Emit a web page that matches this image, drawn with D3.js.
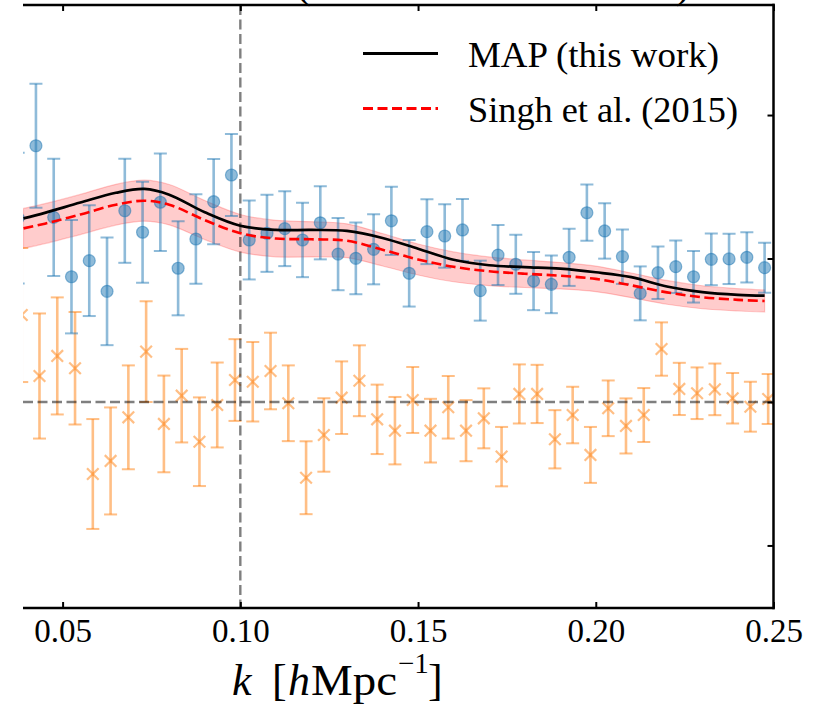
<!DOCTYPE html>
<html>
<head>
<meta charset="utf-8">
<script src="https://cdn.jsdelivr.net/npm/d3@7"></script>
<style>
  html, body { margin: 0; padding: 0; background: #fff; }
  svg { display: block; }
  text { font-family: "Liberation Serif", "DejaVu Serif", serif; fill: #000; }
</style>
</head>
<body>
<svg id="chart" width="818" height="707"></svg>
<script>
// k bins (h/Mpc) of the measured band powers
const kBins = [0.0375,0.0425,0.0475,0.0525,0.0575,0.0625,0.0675,0.0725,0.0775,0.0825,
  0.0875,0.0925,0.0975,0.1025,0.1075,0.1125,0.1175,0.1225,0.1275,0.1325,
  0.1375,0.1425,0.1475,0.1525,0.1575,0.1625,0.1675,0.1725,0.1775,0.1825,
  0.1875,0.1925,0.1975,0.2025,0.2075,0.2125,0.2175,0.2225,0.2275,0.2325,
  0.2375,0.2425,0.2475];

// signal estimates (circles) and their 1-sigma errors
const signalVals = [1.282,1.786,1.287,0.873,0.985,0.771,1.333,1.183,1.392,0.932,
  1.136,1.396,1.582,1.129,1.176,1.208,1.129,1.249,1.031,1.001,
  1.064,1.263,0.897,1.187,1.157,1.199,0.776,1.024,0.960,0.843,
  0.820,1.008,1.319,1.192,1.013,0.757,0.901,0.943,0.873,0.994,
  0.997,1.008,0.936];
const signalErr = [0.456,0.432,0.409,0.395,0.386,0.375,0.363,0.352,0.340,0.328,
  0.312,0.297,0.286,0.275,0.269,0.261,0.259,0.255,0.252,0.250,
  0.244,0.238,0.232,0.226,0.221,0.216,0.209,0.209,0.206,0.203,
  0.201,0.199,0.196,0.193,0.190,0.188,0.183,0.183,0.180,0.180,
  0.175,0.175,0.174];

// null-test estimates (crosses) and their 1-sigma errors
const nullVals = [0.606,0.181,0.321,0.235,-0.502,-0.411,-0.107,0.351,-0.153,0.044,
  -0.277,-0.021,0.153,0.141,0.216,-0.009,-0.528,-0.230,0.030,0.148,
  -0.121,-0.200,0.014,-0.200,-0.037,-0.200,-0.114,-0.381,0.056,0.056,
  -0.260,-0.091,-0.369,-0.044,-0.167,-0.091,0.369,0.091,0.061,0.088,
  0.026,-0.033,0.021];
const nullErr = [0.467,0.436,0.408,0.392,0.383,0.373,0.362,0.351,0.337,0.326,
  0.309,0.296,0.285,0.277,0.267,0.264,0.254,0.256,0.253,0.247,
  0.242,0.235,0.230,0.222,0.218,0.213,0.209,0.207,0.206,0.203,
  0.203,0.197,0.195,0.194,0.192,0.188,0.186,0.182,0.180,0.180,
  0.176,0.174,0.174];

// model curves on a k grid
const kModel = [0.039,0.045,0.055,0.065,0.073,0.080,0.090,0.100,0.110,0.120,0.130,0.140,
  0.150,0.160,0.170,0.180,0.190,0.200,0.210,0.220,0.230,0.240,0.2475];
const mapVals = [1.280,1.318,1.390,1.458,1.485,1.445,1.322,1.228,1.199,1.199,1.192,1.143,
  1.068,0.991,0.953,0.940,0.929,0.904,0.870,0.805,0.766,0.747,0.741];
const singhVals = [1.210,1.243,1.307,1.375,1.403,1.375,1.268,1.176,1.139,1.134,1.124,1.061,
  0.993,0.942,0.911,0.894,0.880,0.858,0.813,0.764,0.730,0.712,0.704];
const singhErr = [0.139,0.139,0.140,0.142,0.143,0.141,0.136,0.131,0.127,0.123,0.118,0.113,
  0.108,0.104,0.100,0.096,0.092,0.089,0.086,0.083,0.080,0.078,0.077];

const xTicks = [0.05, 0.10, 0.15, 0.20, 0.25];
const yTicks = [-1, 0, 1, 2];
const kCut = 0.10;
const nullShift = 0.001; // small horizontal offset so the two series don't overlap

const legendItems = [
  { label: "MAP (this work)", color: "#000", dash: null, width: 251 },
  { label: "Singh et al. (2015)", color: "#ff0000", dash: "10,4.5", width: 270 }
];

// ---- layout ----
const svg = d3.select("#chart");
const L = 23, R = 773.5, T = 5, B = 608;

const x = d3.scaleLinear().domain([0.039, 0.25]).range([23.5, R]);
const y = d3.scaleLinear().domain([-1.436, 2.767]).range([B, T]);

svg.append("defs").append("clipPath").attr("id", "plotclip")
  .append("rect").attr("x", L).attr("y", T).attr("width", R - L).attr("height", B - T);

const plot = svg.append("g").attr("clip-path", "url(#plotclip)");
const smooth = d3.curveCatmullRom.alpha(0.5);

// model band (Singh et al. uncertainty)
const bandData = kModel.map((k, i) => ({ k, lo: singhVals[i] - singhErr[i], hi: singhVals[i] + singhErr[i] }));
plot.append("path")
  .datum(bandData)
  .attr("d", d3.area().curve(smooth)
    .x(d => x(d.k)).y0(d => y(d.lo)).y1(d => y(d.hi)))
  .attr("fill", "rgba(255,0,0,0.2)")
  .attr("stroke", "rgba(255,0,0,0.2)")
  .attr("stroke-width", 1.2);

// error bars helper
function errorBars(g, ks, vals, errs, color) {
  const rows = ks.map((k, i) => ({ k, v: vals[i], e: errs[i] }));
  const grp = g.append("g");
  grp.selectAll("line.bar").data(rows).join("line")
    .attr("x1", d => x(d.k)).attr("x2", d => x(d.k))
    .attr("y1", d => y(d.v + d.e)).attr("y2", d => y(d.v - d.e))
    .attr("stroke", color).attr("stroke-width", 2.6);
  ["top", "bot"].forEach(side => {
    grp.selectAll("line.cap" + side).data(rows).join("line")
      .attr("x1", d => x(d.k) - 6.5).attr("x2", d => x(d.k) + 6.5)
      .attr("y1", d => y(side === "top" ? d.v + d.e : d.v - d.e))
      .attr("y2", d => y(side === "top" ? d.v + d.e : d.v - d.e))
      .attr("stroke", color).attr("stroke-width", 2);
  });
  return rows;
}

const blue = "rgba(31,119,180,0.5)";
const orange = "rgba(255,127,14,0.5)";

// null-test crosses
const kNull = kBins.map(k => k + nullShift);
const nullRows = errorBars(plot, kNull, nullVals, nullErr, orange);
const s = 5.8;
plot.append("g").selectAll("path").data(nullRows).join("path")
  .attr("d", d => {
    const cx = x(d.k), cy = y(d.v);
    return `M${cx - s},${cy - s}L${cx + s},${cy + s}M${cx - s},${cy + s}L${cx + s},${cy - s}`;
  })
  .attr("stroke", orange).attr("stroke-width", 2.2).attr("fill", "none");

// signal circles
const sigRows = errorBars(plot, kBins, signalVals, signalErr, blue);
plot.append("g").selectAll("circle").data(sigRows).join("circle")
  .attr("cx", d => x(d.k)).attr("cy", d => y(d.v)).attr("r", 6)
  .attr("fill", blue).attr("stroke", blue).attr("stroke-width", 1.2);

// reference lines
plot.append("line")
  .attr("x1", L).attr("x2", R).attr("y1", y(0)).attr("y2", y(0))
  .attr("stroke", "rgba(0,0,0,0.5)").attr("stroke-width", 2.6).attr("stroke-dasharray", "10,4.5");
plot.append("line")
  .attr("x1", x(kCut)).attr("x2", x(kCut)).attr("y1", T).attr("y2", B)
  .attr("stroke", "rgba(0,0,0,0.5)").attr("stroke-width", 2.4).attr("stroke-dasharray", "10,4.5");

// model curves
const line = d3.line().curve(smooth).x(d => x(d[0])).y(d => y(d[1]));
plot.append("path")
  .datum(kModel.map((k, i) => [k, singhVals[i]]))
  .attr("d", line).attr("fill", "none")
  .attr("stroke", "#ff0000").attr("stroke-width", 2.6).attr("stroke-dasharray", "10,4.5");
plot.append("path")
  .datum(kModel.map((k, i) => [k, mapVals[i]]))
  .attr("d", line).attr("fill", "none")
  .attr("stroke", "#000").attr("stroke-width", 2.7);

// ---- axes frame ----
const frame = svg.append("g");
frame.append("line").attr("x1", L).attr("x2", R + 1.2).attr("y1", T).attr("y2", T)
  .attr("stroke", "#000").attr("stroke-width", 2.5);
frame.append("line").attr("x1", L).attr("x2", R + 1.2).attr("y1", B).attr("y2", B)
  .attr("stroke", "#000").attr("stroke-width", 2.5);
frame.append("line").attr("x1", R).attr("x2", R).attr("y1", T - 1.2).attr("y2", B + 1.2)
  .attr("stroke", "#000").attr("stroke-width", 2.5);

// bottom axis: inward ticks + labels
const xAxisB = d3.axisBottom(x).tickValues(xTicks).tickSizeInner(-6).tickSizeOuter(0)
  .tickPadding(12).tickFormat(d3.format(".2f"));
const gxb = svg.append("g").attr("transform", `translate(0,${B})`).call(xAxisB);
gxb.select(".domain").remove();
gxb.selectAll(".tick line").attr("stroke", "#000").attr("stroke-width", 2);
gxb.selectAll(".tick text")
  .attr("y", 34).attr("dy", 0)
  .style("font-family", '"Liberation Serif", "DejaVu Serif", serif')
  .style("font-size", "33px").attr("fill", "#000");

// top axis: inward ticks only
const xAxisT = d3.axisTop(x).tickValues(xTicks).tickSizeInner(-6).tickSizeOuter(0).tickFormat("");
const gxt = svg.append("g").attr("transform", `translate(0,${T})`).call(xAxisT);
gxt.select(".domain").remove();
gxt.selectAll(".tick line").attr("stroke", "#000").attr("stroke-width", 2);

// right axis: inward ticks only
const yAxisR = d3.axisRight(y).tickValues(yTicks).tickSizeInner(-6).tickSizeOuter(0).tickFormat("");
const gyr = svg.append("g").attr("transform", `translate(${R},0)`).call(yAxisR);
gyr.select(".domain").remove();
gyr.selectAll(".tick line").attr("stroke", "#000").attr("stroke-width", 2);

// x-axis label
const xl = svg.append("text").attr("y", 695).style("font-size", "44px");
xl.append("tspan").attr("x", 232).style("font-style", "italic").text("k");
xl.append("tspan").attr("x", 272).text("[");
xl.append("tspan").attr("x", 288).style("font-style", "italic").text("h");
xl.append("tspan").attr("x", 311).attr("textLength", 86).attr("lengthAdjust", "spacingAndGlyphs").text("Mpc");
xl.append("tspan").attr("x", 398).attr("dy", -22).style("font-size", "29px").text("\u22121");
xl.append("tspan").attr("x", 428).attr("dy", 22).text("]");

// parentheses of the panel title above the frame
svg.append("text").attr("x", 296).attr("y", -3).style("font-size", "44px").text("(");
svg.append("text").attr("x", 676).attr("y", -3).style("font-size", "44px").text(")");

// legend
const lg = svg.append("g");
legendItems.forEach((it, i) => {
  const ly = 53.5 + i * 55;
  lg.append("line").attr("x1", 363).attr("x2", 438).attr("y1", ly).attr("y2", ly)
    .attr("stroke", it.color).attr("stroke-width", 2.8)
    .attr("stroke-dasharray", it.dash);
  lg.append("text").attr("x", 468).attr("y", ly + 13.5)
    .attr("textLength", it.width).attr("lengthAdjust", "spacingAndGlyphs")
    .style("font-size", "36px").text(it.label);
});
</script>
</body>
</html>
